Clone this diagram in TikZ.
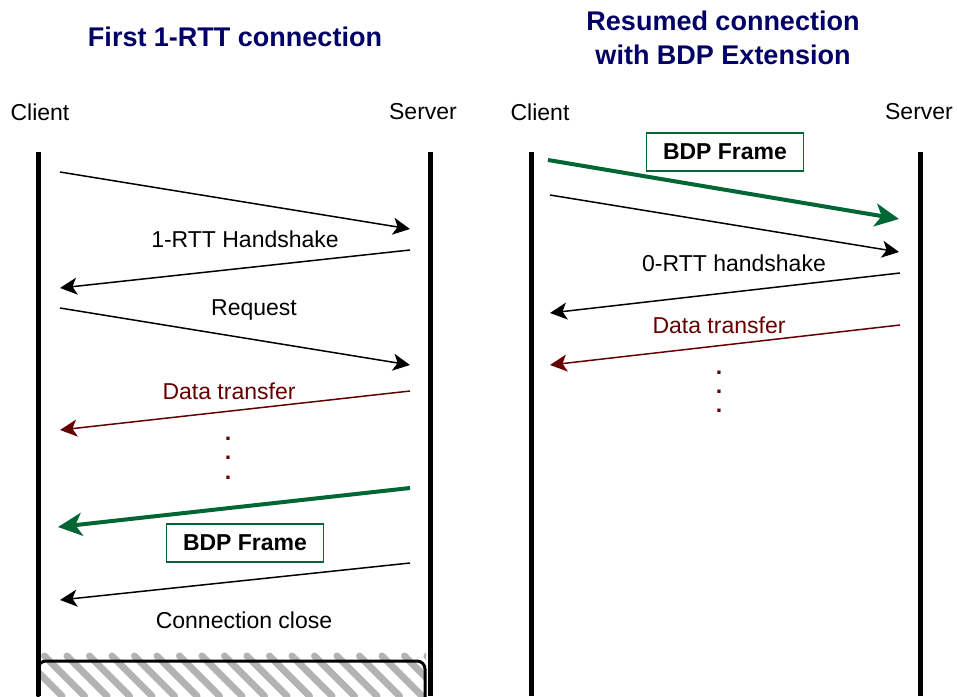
\documentclass[tikz,border=0pt]{standalone}
\usepackage{fontspec}
\setmainfont{Liberation Sans}
\usetikzlibrary{arrows.meta}
\definecolor{titleblue}{HTML}{000066}
\definecolor{darkred}{HTML}{660000}
\definecolor{bdpgreen}{HTML}{006633}
\definecolor{hatchgray}{HTML}{B3B3B3}
\tikzset{
  txt/.style={font=\fontsize{23}{27}\selectfont, inner sep=0pt},
  ttl/.style={font=\fontsize{27}{34}\selectfont\bfseries, text=titleblue, align=center, inner sep=0pt},
  lifeline/.style={line width=5pt},
  msg/.style={line width=1.5pt, -{Stealth[length=17pt, width=17pt, inset=4.5pt]}},
  datamsg/.style={msg, draw=darkred},
  bdpmsg/.style={line width=4pt, draw=bdpgreen, -{Stealth[length=24pt, width=23pt, inset=6.5pt]}},
  bdpbox/.style={draw=bdpgreen, line width=1.5pt, font=\fontsize{23}{27}\selectfont\bfseries,
    minimum width=157pt, minimum height=38pt, inner sep=0pt},
  dot/.style={font=\fontsize{23}{27}\selectfont\bfseries, text=darkred, inner sep=0pt},
}
\begin{document}
\begin{tikzpicture}[x=1pt, y=-1pt]
\useasboundingbox (0,0) rectangle (957,696);

% ---------------- first 1-RTT connection ----------------
\node[ttl] (t1) at (235,37) {First 1-RTT connection};
\node[txt] (c1) at (40,112) {Client};
\node[txt] (s1) at (423,112) {Server};

% closed part of the connection: hatched area
\begin{scope}
  \clip (40,652) rectangle (426,696);
  \foreach \k in {0,...,20} {
    \draw[hatchgray, line width=7pt, line cap=round] (22+22.5*\k,656) -- ++(40,40);
  }
\end{scope}
\draw[line width=3pt, rounded corners=8pt] (38,705) -- (38,661) -- (425,661) -- (425,705);

\coordinate (c1top) at (38,152);
\coordinate (c1bot) at (38,696);
\coordinate (s1top) at (430,152);
\coordinate (s1bot) at (430,696);
\draw[lifeline] (c1top) -- (c1bot);
\draw[lifeline] (s1top) -- (s1bot);

\coordinate (a1s) at (60,172);   \coordinate (a1e) at (410,229);
\coordinate (a2s) at (410,250);  \coordinate (a2e) at (60,288);
\coordinate (a3s) at (60,308);   \coordinate (a3e) at (410,365);
\coordinate (a4s) at (410,391);  \coordinate (a4e) at (60,430);
\coordinate (a5s) at (410,488);  \coordinate (a5e) at (58,527);
\coordinate (a6s) at (410,563);  \coordinate (a6e) at (60,600);

\draw[msg] (a1s) -- (a1e);
\draw[msg] (a2s) -- (a2e);
\node[txt] (l2) at (245,239) {1-RTT Handshake};
\draw[msg] (a3s) -- (a3e);
\node[txt] (l3) at (254,310) {Request};
\draw[datamsg] (a4s) -- (a4e);
\node[txt, text=darkred] (l4) at (229,391) {Data transfer};
\node[dot] (d1a) at (228,439) {.};
\node[dot] (d1b) at (228,458) {.};
\node[dot] (d1c) at (228,478) {.};
\draw[bdpmsg] (a5s) -- (a5e);
\node[bdpbox] (b1) at (245,543) {BDP Frame};
\draw[msg] (a6s) -- (a6e);
\node[txt] (l6) at (244,620) {Connection close};

% ---------------- resumed connection ----------------
\node[ttl] (t2) at (723,38) {Resumed connection\\with BDP Extension};
\node[txt] (c2) at (540,112) {Client};
\node[txt] (s2) at (919,112) {Server};

\coordinate (c2top) at (531,152);
\coordinate (c2bot) at (531,696);
\coordinate (s2top) at (920,152);
\coordinate (s2bot) at (920,696);
\draw[lifeline] (c2top) -- (c2bot);
\draw[lifeline] (s2top) -- (s2bot);

\coordinate (r1s) at (548,160);  \coordinate (r1e) at (899,219);
\coordinate (r2s) at (550,195);  \coordinate (r2e) at (899,252);
\coordinate (r3s) at (900,273);  \coordinate (r3e) at (550,313);
\coordinate (r4s) at (900,325);  \coordinate (r4e) at (550,365);

\node[bdpbox] (b2) at (725,152) {BDP Frame};
\draw[bdpmsg] (r1s) -- (r1e);
\draw[msg] (r2s) -- (r2e);
\draw[msg] (r3s) -- (r3e);
\node[txt] (m3) at (734,263) {0-RTT handshake};
\draw[datamsg] (r4s) -- (r4e);
\node[txt, text=darkred] (m4) at (719,325) {Data transfer};
\node[dot] (d2a) at (719,373) {.};
\node[dot] (d2b) at (719,392) {.};
\node[dot] (d2c) at (719,411) {.};
\end{tikzpicture}
\end{document}
